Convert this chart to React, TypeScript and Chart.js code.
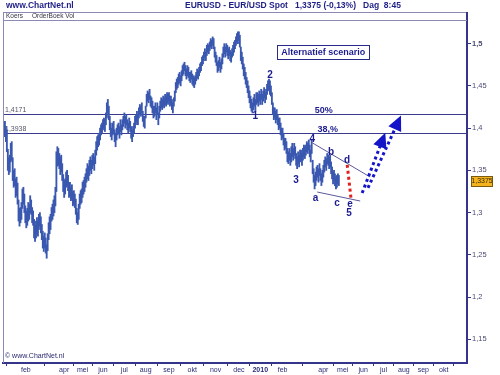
import React, { useEffect, useRef } from "react";
import { Chart, registerables } from "chart.js";
Chart.register(...registerables);

// Daily EUR/USD bars, values in thousandths above 1 (e.g. 392 -> 1.392)
const LOWS = [
  392,390,384,372,350,345,348,360,362,338,
  330,332,318,320,310,290,284,288,292,305,
  310,300,288,282,285,290,292,300,298,288,
  285,270,266,270,275,272,280,284,276,268,
  258,254,258,252,246,255,268,275,280,290,
  292,296,300,308,325,355,356,352,345,348,
  338,325,318,322,330,332,326,318,320,314,
  316,308,310,306,298,288,286,292,305,310,
  312,318,322,325,330,336,340,338,344,350,
  346,352,356,350,358,368,374,378,380,386,
  392,394,398,400,396,404,412,418,410,398,
  390,386,392,394,384,378,386,392,394,388,
  396,392,398,402,406,400,404,398,394,400,
  396,388,384,390,394,400,404,408,404,412,
  416,414,418,408,402,400,412,426,432,430,
  434,426,424,418,412,414,418,410,416,404,
  412,420,424,422,426,424,428,426,430,428,
  432,426,428,422,418,426,432,442,446,448,
  452,454,450,456,462,464,468,462,458,462,
  460,456,454,458,452,450,448,452,456,460,
  458,462,466,468,474,476,480,484,480,486,
  490,488,492,496,494,498,494,484,478,474,
  466,468,472,466,470,476,484,488,484,490,
  486,482,486,480,478,484,486,490,494,498,
  502,500,504,496,480,476,470,462,458,452,
  448,442,436,430,424,420,418,422,426,420,
  428,430,426,432,428,434,428,432,436,430,
  434,440,444,446,440,438,428,416,410,412,
  406,410,404,398,400,392,386,388,380,374,
  376,370,360,358,362,356,360,366,362,368,
  364,356,352,358,354,360,362,356,362,366,
  364,368,372,370,374,366,360,370,346,336,
  328,332,338,342,336,344,338,332,336,342,
  348,354,350,358,356,352,354,346,340,334,
  338,332,328,330,334,332,
];
const HIGHS = [
  404,408,402,398,375,365,368,382,384,365,
  350,352,340,342,335,315,305,306,312,328,
  330,322,308,302,305,312,310,320,315,306,
  302,292,285,290,294,290,298,300,295,286,
  278,272,276,270,262,275,288,295,298,306,
  310,315,320,330,372,378,376,370,366,368,
  358,345,338,340,348,350,344,336,336,330,
  333,325,326,322,316,305,300,310,322,326,
  328,336,338,342,346,352,358,355,362,366,
  362,368,370,366,374,384,390,392,394,400,
  404,406,410,412,410,418,430,434,426,414,
  406,400,406,408,398,394,400,404,406,402,
  410,404,410,414,418,414,416,410,406,412,
  408,402,398,402,406,414,416,420,416,424,
  428,426,430,420,414,414,426,440,444,442,
  446,438,436,432,426,426,430,424,430,418,
  426,432,436,434,438,436,440,438,442,440,
  442,438,438,434,430,436,444,454,458,460,
  464,466,462,468,474,476,478,474,470,474,
  472,466,466,468,464,462,460,462,466,470,
  468,472,476,478,484,486,490,494,490,498,
  500,498,502,506,504,508,506,496,490,486,
  478,480,484,478,482,488,496,500,496,500,
  498,494,496,492,490,494,498,502,504,508,
  512,514,514,510,496,490,484,476,472,466,
  460,456,450,444,438,434,430,436,440,434,
  442,442,440,444,440,446,440,444,448,442,
  446,452,456,458,456,450,442,430,424,424,
  420,422,416,412,412,406,400,400,394,388,
  388,384,376,372,376,370,378,382,376,382,
  378,370,366,372,368,374,374,370,376,380,
  378,380,384,382,386,380,374,386,362,352,
  344,348,354,356,352,358,352,346,350,356,
  362,366,364,370,368,366,368,360,354,348,
  350,346,342,344,346,344,
];

const LAST_PRICE = 1.3375;
const Y_TICKS = [1.15, 1.2, 1.25, 1.3, 1.35, 1.4, 1.45, 1.5];
const MONTH_POS = [22.5, 62, 81, 102, 124, 146, 170, 194, 218, 242, 264, 287, 329, 349, 370, 391, 412, 432, 453];
const MONTH_LABELS = ["feb", "apr", "mei", "jun", "jul", "aug", "sep", "okt", "nov", "dec", "2010", "feb", "apr", "mei", "jun", "jul", "aug", "sep", "okt"];

const LEVELS = [1.4171, 1.3938];
const LEVEL_LABELS = ["1,4171", "1,3938"];
const PCT_LABELS = ["50%", "38,%"];
const PCT_X = [329.4, 333.5];

const WAVE_LABELS = ["1", "2", "3", "4", "a", "b", "c", "d", "e", "5"];
const WAVE_X = [259, 274, 301, 317.5, 321, 337, 343, 353.5, 356.5, 355.5];
const WAVE_Y = [1.4137, 1.4625, 1.3387, 1.3863, 1.3173, 1.372, 1.3113, 1.3625, 1.31, 1.2994];

const WEDGE_UPPER_X = [317.5, 377];
const WEDGE_UPPER_Y = [1.3827, 1.3423];
const WEDGE_LOWER_X = [322.7, 367];
const WEDGE_LOWER_Y = [1.3244, 1.3137];

const RED_X = [353.6, 357.7];
const RED_Y = [1.3566, 1.3149];

const ARROW1_X = [369, 392.8];
const ARROW1_Y = [1.3232, 1.3946];
const ARROW2_X = [375, 409];
const ARROW2_Y = [1.3292, 1.4149];

const SCENARIO_TEXT = "Alternatief scenario";
const SCENARIO_X = 329;
const SCENARIO_Y = 1.4899;

const FONT = '"Liberation Sans", Arial, sans-serif';
const NAVY = "#1f1f86";

function arrowHead(ctx: CanvasRenderingContext2D, x0: number, y0: number, x1: number, y1: number, len: number, half: number) {
  const a = Math.atan2(y1 - y0, x1 - x0);
  const bx = x1 - len * Math.cos(a);
  const by = y1 - len * Math.sin(a);
  ctx.beginPath();
  ctx.moveTo(x1, y1);
  ctx.lineTo(bx + half * Math.sin(a), by - half * Math.cos(a));
  ctx.lineTo(bx - half * Math.sin(a), by + half * Math.cos(a));
  ctx.closePath();
  ctx.fill();
}

const annotPlugin = {
  id: "annot",
  beforeDatasetsDraw(chart: any) {
    const { ctx, chartArea: a, scales } = chart;
    const y = scales.y;
    ctx.save();
    LEVELS.forEach((lv, k) => {
      const py = Math.round(y.getPixelForValue(lv)) + 0.5;
      ctx.strokeStyle = "#3a3a8e";
      ctx.lineWidth = 1;
      ctx.beginPath();
      ctx.moveTo(a.left, py);
      ctx.lineTo(a.right, py);
      ctx.stroke();
      ctx.fillStyle = "#555566";
      ctx.font = `7px ${FONT}`;
      ctx.textBaseline = "bottom";
      ctx.textAlign = "left";
      ctx.fillText(LEVEL_LABELS[k], a.left + 2, py - 0.5);
    });
    ctx.restore();
  },
  afterDatasetsDraw(chart: any) {
    const { ctx, scales } = chart;
    const x = scales.x, y = scales.y;
    const px = (v: number) => x.getPixelForValue(v);
    const py = (v: number) => y.getPixelForValue(v);
    ctx.save();
    // wedge lines
    ctx.strokeStyle = "#5a5a9a";
    ctx.lineWidth = 1;
    [[WEDGE_UPPER_X, WEDGE_UPPER_Y], [WEDGE_LOWER_X, WEDGE_LOWER_Y]].forEach(([xs, ys]) => {
      ctx.beginPath();
      ctx.moveTo(px(xs[0]), py(ys[0]));
      ctx.lineTo(px(xs[1]), py(ys[1]));
      ctx.stroke();
    });
    // red dotted
    ctx.setLineDash([3, 3]);
    ctx.lineWidth = 3;
    ctx.strokeStyle = "#e0201c";
    ctx.beginPath();
    ctx.moveTo(px(RED_X[0]), py(RED_Y[0]));
    ctx.lineTo(px(RED_X[1]), py(RED_Y[1]));
    ctx.stroke();
    // blue dotted arrows
    ctx.strokeStyle = "#1414c8";
    ctx.fillStyle = "#1414c8";
    [[ARROW1_X, ARROW1_Y], [ARROW2_X, ARROW2_Y]].forEach(([xs, ys]) => {
      const x0 = px(xs[0]), y0 = py(ys[0]), x1 = px(xs[1]), y1 = py(ys[1]);
      const ang = Math.atan2(y1 - y0, x1 - x0);
      ctx.setLineDash([3, 3]);
      ctx.beginPath();
      ctx.moveTo(x0, y0);
      ctx.lineTo(x1 - 12 * Math.cos(ang), y1 - 12 * Math.sin(ang));
      ctx.stroke();
      ctx.setLineDash([]);
      arrowHead(ctx, x0, y0, x1, y1, 15, 7);
    });
    ctx.setLineDash([]);
    // wave labels
    ctx.fillStyle = "#1c1c90";
    ctx.font = `bold 10px ${FONT}`;
    ctx.textAlign = "center";
    ctx.textBaseline = "middle";
    WAVE_LABELS.forEach((t, k) => ctx.fillText(t, px(WAVE_X[k]), py(WAVE_Y[k])));
    // percent labels
    ctx.font = `bold 9px ${FONT}`;
    ctx.textBaseline = "bottom";
    PCT_LABELS.forEach((t, k) => ctx.fillText(t, px(PCT_X[k]), Math.round(py(LEVELS[k])) + 1));
    // scenario box
    ctx.font = `bold 9px ${FONT}`;
    const w = ctx.measureText(SCENARIO_TEXT).width + 8;
    const cx = px(SCENARIO_X), cy = py(SCENARIO_Y);
    ctx.fillStyle = "#ffffff";
    ctx.fillRect(cx - w / 2, cy - 7, w, 14);
    ctx.strokeStyle = "#2a2a88";
    ctx.lineWidth = 1;
    ctx.strokeRect(Math.round(cx - w / 2) + 0.5, Math.round(cy - 7) + 0.5, Math.round(w), 14);
    ctx.fillStyle = "#1c1c90";
    ctx.textBaseline = "middle";
    ctx.fillText(SCENARIO_TEXT, cx, cy + 0.5);
    ctx.restore();
  },
  afterDraw(chart: any) {
    const { ctx, chartArea: a, scales } = chart;
    const y = scales.y;
    ctx.save();
    // frame
    ctx.strokeStyle = "#8a8ab4";
    ctx.lineWidth = 1;
    ctx.beginPath();
    ctx.moveTo(a.left + 0.5, 12);
    ctx.lineTo(a.left + 0.5, a.bottom);
    ctx.moveTo(a.left, 12.5);
    ctx.lineTo(a.right, 12.5);
    ctx.moveTo(a.left, a.top + 0.5);
    ctx.lineTo(a.right, a.top + 0.5);
    ctx.stroke();
    ctx.strokeStyle = "#34348a";
    ctx.lineWidth = 2;
    ctx.beginPath();
    ctx.moveTo(a.right, 12);
    ctx.lineTo(a.right, a.top);
    ctx.stroke();
    // header texts
    ctx.fillStyle = NAVY;
    ctx.font = `bold 8.5px ${FONT}`;
    ctx.textBaseline = "middle";
    ctx.textAlign = "left";
    ctx.fillText("www.ChartNet.nl", 6, 6);
    ctx.fillText("EURUSD - EUR/USD Spot   1,3375 (-0,13%)   Dag  8:45", 185, 6);
    ctx.fillStyle = "#333344";
    ctx.font = `6.5px ${FONT}`;
    ctx.fillText("Koers     OrderBoek Vol", 6, 16.5);
    ctx.fillStyle = "#2a2a70";
    ctx.font = `7px ${FONT}`;
    ctx.fillText("\u00a9 www.ChartNet.nl", 5, 356);
    // last price tag
    const ty = y.getPixelForValue(LAST_PRICE);
    ctx.fillStyle = "#f4b21e";
    ctx.fillRect(471, Math.round(ty) - 4.5, 22, 10);
    ctx.strokeStyle = "#7a5a10";
    ctx.lineWidth = 1;
    ctx.strokeRect(471.5, Math.round(ty) - 4.5, 21, 10);
    ctx.fillStyle = "#3a2a00";
    ctx.font = `7px ${FONT}`;
    ctx.textAlign = "center";
    ctx.fillText("1,3375", 482, Math.round(ty) + 0.5);
    ctx.restore();
  },
};

export default function App() {
  const ref = useRef<HTMLCanvasElement>(null);
  useEffect(() => {
    const data = LOWS.map((lo, i) => ({ x: i, y: [1 + lo / 1000, 1 + HIGHS[i] / 1000] }));
    const chart = new Chart(ref.current!, {
      type: "bar",
      data: {
        datasets: [
          {
            data: data as any,
            backgroundColor: "#3a58b0",
            borderWidth: 0,
            barThickness: 1.2,
          },
        ],
      },
      options: {
        responsive: false,
        animation: false,
        events: [],
        layout: { padding: { left: 3, top: 20, right: 0, bottom: 0 } },
        plugins: { legend: { display: false }, tooltip: { enabled: false }, title: { display: false } },
        scales: {
          x: {
            type: "linear",
            min: -1,
            max: 477,
            offset: false,
            grid: { drawOnChartArea: false, tickLength: 3, color: "#34348a" },
            border: { color: "#34348a", width: 2 },
            afterBuildTicks: (s: any) => {
              s.ticks = MONTH_POS.map((v) => ({ value: v }));
            },
            afterFit: (s: any) => {
              s.height = 12;
            },
            ticks: {
              autoSkip: false,
              maxRotation: 0,
              padding: 0,
              color: "#2a2a78",
              font: (c: any) => ({ family: FONT, size: 7, weight: MONTH_LABELS[c.index] === "2010" ? "bold" : "normal" }),
              callback: (_v: any, i: number) => MONTH_LABELS[i],
            },
          },
          y: {
            position: "right",
            min: 1.122,
            max: 1.528,
            grid: { drawOnChartArea: false, tickLength: 4, color: "#34348a" },
            border: { color: "#34348a", width: 2 },
            afterBuildTicks: (s: any) => {
              s.ticks = Y_TICKS.map((v) => ({ value: v }));
            },
            afterFit: (s: any) => {
              s.width = 33;
            },
            ticks: {
              padding: 1,
              color: "#4a4a70",
              font: (c: any) => ({ family: FONT, size: 7.5, weight: c.tick && c.tick.value === 1.5 ? "bold" : "normal" }),
              callback: (v: any) => String(Math.round(Number(v) * 100) / 100).replace(".", ","),
            },
          },
        },
      },
      plugins: [annotPlugin],
    } as any);
    return () => chart.destroy();
  }, []);
  return (
    <div style={{ position: "absolute", left: 0, top: 0, width: 500, height: 375, background: "#ffffff" }}>
      <canvas ref={ref} width={500} height={375} style={{ width: 500, height: 375, display: "block" }} />
    </div>
  );
}
